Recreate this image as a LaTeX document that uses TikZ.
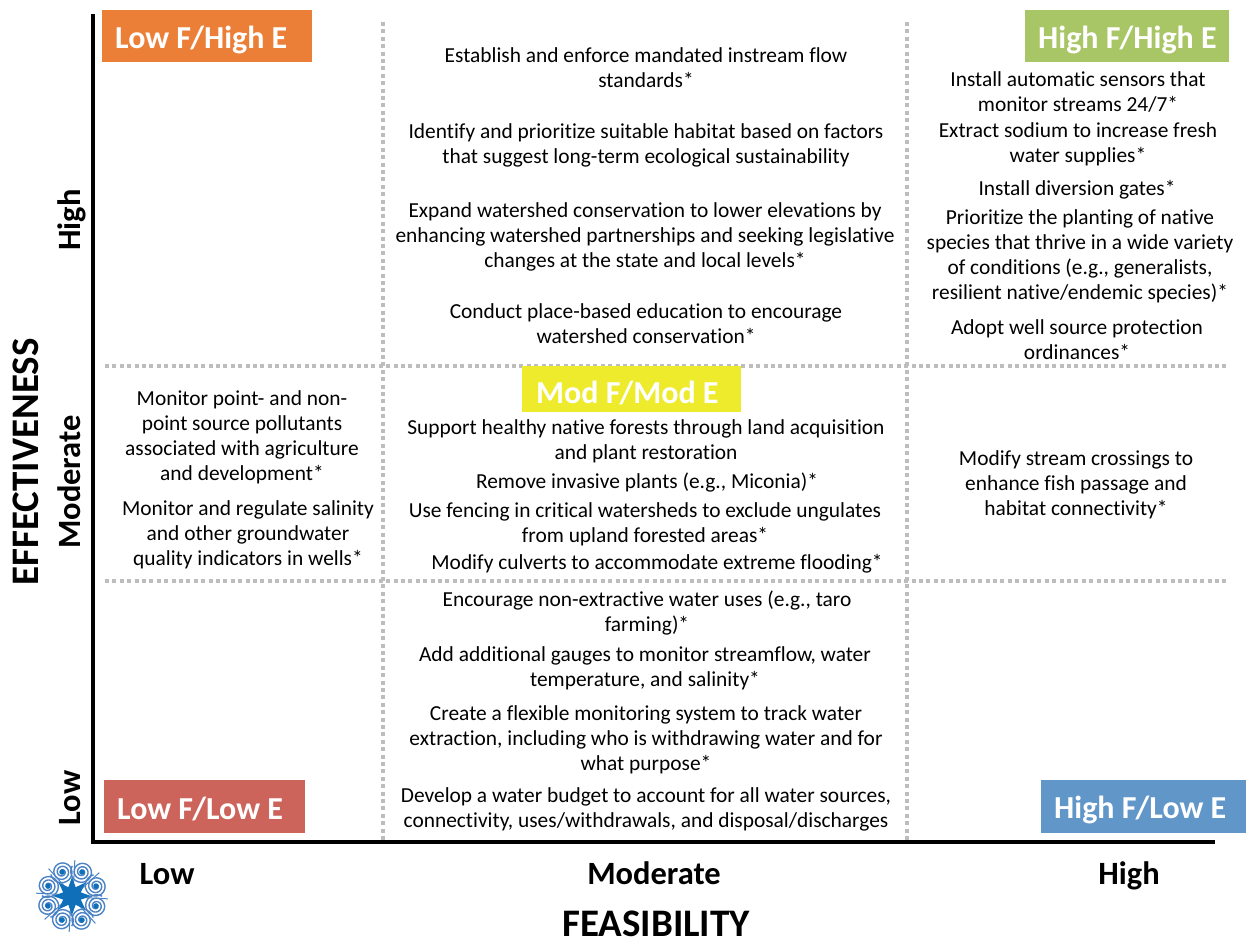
\documentclass[tikz,border=0pt]{standalone}
\usepackage{fontspec}
\usepackage{xcolor}
\setmainfont{Carlito}[Ligatures=NoCommon]
\usetikzlibrary{calc}
\definecolor{tagorange}{HTML}{EC7F37}
\definecolor{taggreen}{HTML}{A9C666}
\definecolor{tagyellow}{HTML}{EDEB2B}
\definecolor{tagred}{HTML}{CC645B}
\definecolor{tagblue}{HTML}{6196C9}
\definecolor{griddot}{HTML}{BDBDBD}
\definecolor{logoblue}{HTML}{0F70B9}
\definecolor{logoline}{HTML}{4B82C4}
\tikzset{
  action/.style={align=center, inner sep=0pt, font=\fontsize{21.4}{25}\selectfont},
  tagbox/.style={anchor=north west, inner sep=0pt, text=white, font=\fontsize{32}{33}\bfseries\selectfont, align=left},
  axisline/.style={line width=4pt},
  griddots/.style={griddot, line width=4pt, dash pattern=on 4pt off 3.4pt},
  level/.style={inner sep=0pt, text height=23pt, text depth=6pt, font=\fontsize{32.5}{34}\bfseries\selectfont},
  axistitle/.style={inner sep=0pt, text depth=0pt, font=\fontsize{39}{40}\bfseries\selectfont}
}
\begin{document}
\begin{tikzpicture}[x=1pt, y=-1pt]
\useasboundingbox (0,0) rectangle (1246,939);

    \coordinate (axistop) at (93, 14);
    \coordinate (origin) at (93, 842);
    \coordinate (axisend) at (1215, 842);
    \coordinate (v1top) at (383, 22);
    \coordinate (v1bot) at (383, 842);
    \coordinate (v2top) at (907, 22);
    \coordinate (v2bot) at (907, 842);
    \coordinate (h1left) at (105, 366);
    \coordinate (h1right) at (1226, 366);
    \coordinate (h2left) at (105, 581);
    \coordinate (h2right) at (1226, 581);

    \draw[griddots] (v1top) -- (v1bot);
    \draw[griddots] (v2top) -- (v2bot);
    \draw[griddots] (h1left) -- (h1right);
    \draw[griddots] (h2left) -- (h2right);
    \draw[axisline] (axistop) -- (origin) -- (axisend);

    % corner tags
    \fill[tagorange] (102, 10) rectangle (312, 62);
    \node[tagbox] (lowhigh) at (115, 26) {Low F/High E};
    \fill[taggreen] (1025, 10) rectangle (1229, 62);
    \node[tagbox] (highhigh) at (1038, 26) {High F/High E};
    \fill[tagyellow] (522, 366) rectangle (741, 412);
    \node[tagbox] (modmod) at (536, 381) {Mod F/Mod E};
    \fill[tagred] (104, 780) rectangle (305, 833);
    \node[tagbox] (lowlow) at (117, 797) {Low F/Low E};
    \fill[tagblue] (1041, 780) rectangle (1246, 833);
    \node[tagbox] (highlow) at (1054, 796) {High F/Low E};

    % left column
    \node[action] (pollutants) at (242, 437) {Monitor point- and non-\\point source pollutants\\associated with agriculture\\and development*};
    \node[action] (salinity) at (248, 535) {Monitor and regulate salinity\\and other groundwater\\quality indicators in wells*};

    % middle column
    \node[action] (standards) at (646, 68) {Establish and enforce mandated instream flow\\standards*};
    \node[action] (habitat) at (646, 145) {Identify and prioritize suitable habitat based on factors\\that suggest long-term ecological sustainability};
    \node[action] (expand) at (645, 237) {Expand watershed conservation to lower elevations by\\enhancing watershed partnerships and seeking legislative\\changes at the state and local levels*};
    \node[action] (education) at (646, 324) {Conduct place-based education to encourage\\watershed conservation*};
    \node[action] (forests) at (646, 441) {Support healthy native forests through land acquisition\\and plant restoration};
    \node[action] (invasive) at (647, 483) {Remove invasive plants (e.g., Miconia)*};
    \node[action] (fencing) at (645, 524) {Use fencing in critical watersheds to exclude ungulates\\from upland forested areas*};
    \node[action] (culverts) at (657, 564) {Modify culverts to accommodate extreme flooding*};
    \node[action] (taro) at (647, 613) {Encourage non-extractive water uses (e.g., taro\\farming)*};
    \node[action] (gauges) at (645, 668) {Add additional gauges to monitor streamflow, water\\temperature, and salinity*};
    \node[action] (system) at (646, 740) {Create a flexible monitoring system to track water\\extraction, including who is withdrawing water and for\\what purpose*};
    \node[action] (budget) at (646, 809.5) {Develop a water budget to account for all water sources,\\connectivity, uses/withdrawals, and disposal/discharges};

    % right column
    \node[action] (sensors) at (1078, 92) {Install automatic sensors that\\monitor streams 24/7*};
    \node[action] (sodium) at (1078, 144) {Extract sodium to increase fresh\\water supplies*};
    \node[action] (gates) at (1077, 190) {Install diversion gates*};
    \node[action] (native) at (1080, 256.5) {Prioritize the planting of native\\species that thrive in a wide variety\\of conditions (e.g., generalists,\\resilient native/endemic species)*};
    \node[action] (ordinances) at (1077, 340) {Adopt well source protection\\ordinances*};
    \node[action] (crossings) at (1076, 484.5) {Modify stream crossings to\\enhance fish passage and\\habitat connectivity*};

    % axis labels
    \node[axistitle, rotate=90] (effectiveness) at (26, 462) {EFFECTIVENESS};
    \node[level, rotate=90] (ehigh) at (72, 220) {High};
    \node[level, rotate=90] (emod) at (72, 482) {Moderate};
    \node[level, rotate=90] (elow) at (72, 798) {Low};
    \node[level] (flow) at (167, 876) {Low};
    \node[level] (fmod) at (654, 876) {Moderate};
    \node[level] (fhigh) at (1129, 876) {High};
    \node[axistitle] (feasibility) at (656, 924) {FEASIBILITY};

    % logo
    \begin{scope}[shift={(72, 896)}]
        \foreach \a in {22.5, 67.5, ..., 337.5} {
            \draw[logoline, line width=1.4pt, shift={(\a:26)}] plot[domain=0:1000, samples=60, smooth] ({(2+9.5*\x/1000)*cos(\x+\a)}, {(2+9.5*\x/1000)*sin(\x+\a)});
            \fill[logoblue, shift={(\a:26)}] (0,0) circle (2.8);
            \draw[logoline, line width=1pt] (\a-14:10) -- (\a-18:36);
        }
        \fill[logoblue] (0:19) \foreach \a in {22.5, 45, ..., 337.5} {-- (\a:{mod(\a,45)==0 ? 19 : 9.5})} -- cycle;
    \end{scope}

\end{tikzpicture}
\end{document}
